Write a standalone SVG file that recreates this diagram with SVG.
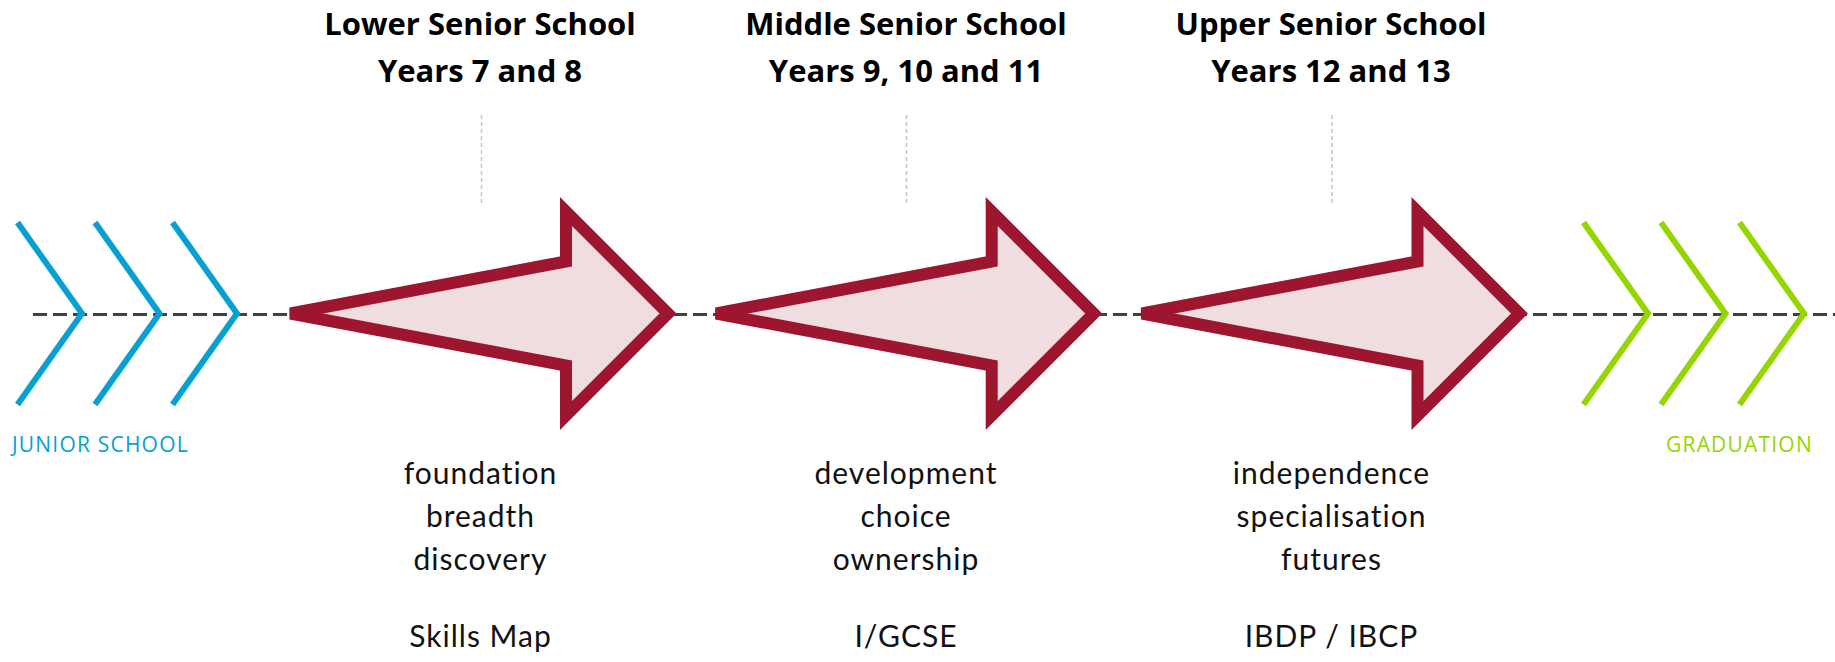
<svg xmlns="http://www.w3.org/2000/svg" xmlns:xlink="http://www.w3.org/1999/xlink" width="1835" height="662" viewBox="0 0 1835 662">
  <style>
    .title { font-family: "Open Sans", "Liberation Sans", sans-serif; font-weight: bold; font-size: 31px; fill: #000; text-anchor: middle; }
    .body { font-family: Lato, "Liberation Sans", sans-serif; font-size: 30px; letter-spacing: 1px; fill: #111; text-anchor: middle; }
    .guide { stroke: #c4c4c4; stroke-width: 1.5; stroke-dasharray: 4 3; fill: none; }
    .axis { stroke: #46403a; stroke-width: 3; stroke-dasharray: 14 6; fill: none; }
    .arrow { fill: #efdde0; stroke: #9e1530; stroke-width: 12; stroke-linejoin: miter; }
    .chev-blue { fill: none; stroke: #06a0d1; stroke-width: 6; }
    .chev-green { fill: none; stroke: #95d500; stroke-width: 6; }
    .label { font-family: "Open Sans", "Liberation Sans", sans-serif; font-size: 21px; letter-spacing: 1.2px; }
  </style>
  <defs>
    <path id="bigArrow" d="M290.5 313.5 L566 261.5 L566 211.5 L668 313.5 L566 415.5 L566 365.5 Z"/>
    <path id="chev" d="M0 0 L64.5 91 L0 182"/>
  </defs>
  <rect width="1835" height="662" fill="#fff"/>

  <g id="connectors">
    <line class="axis" x1="33" y1="314.5" x2="1835" y2="314.5"/>
  </g>

  <g id="junior">
    <use xlink:href="#chev" class="chev-blue" x="17.5" y="222.5"/>
    <use xlink:href="#chev" class="chev-blue" x="95" y="222.5"/>
    <use xlink:href="#chev" class="chev-blue" x="172.5" y="222.5"/>
    <text class="label" x="12" y="451.5" fill="#06a0d1">JUNIOR SCHOOL</text>
  </g>

  <g id="lower">
    <text class="title" x="480" y="35">Lower Senior School</text>
    <text class="title" x="480" y="81.5">Years 7 and 8</text>
    <line class="guide" x1="481.5" y1="115" x2="481.5" y2="205"/>
    <use xlink:href="#bigArrow" class="arrow"/>
    <text class="body" x="480.5" y="483.5">foundation</text>
    <text class="body" x="480.5" y="527">breadth</text>
    <text class="body" x="480.5" y="570">discovery</text>
    <text class="body" x="480.5" y="646.5">Skills Map</text>
  </g>

  <g id="middle">
    <text class="title" x="906" y="35">Middle Senior School</text>
    <text class="title" x="906" y="81.5">Years 9, 10 and 11</text>
    <line class="guide" x1="906.5" y1="115" x2="906.5" y2="205"/>
    <use xlink:href="#bigArrow" class="arrow" x="425.7"/>
    <text class="body" x="906" y="483.5">development</text>
    <text class="body" x="906" y="527">choice</text>
    <text class="body" x="906" y="570">ownership</text>
    <text class="body" x="906" y="646.5">I/GCSE</text>
  </g>

  <g id="upper">
    <text class="title" x="1331" y="35">Upper Senior School</text>
    <text class="title" x="1331" y="81.5">Years 12 and 13</text>
    <line class="guide" x1="1332" y1="115" x2="1332" y2="205"/>
    <use xlink:href="#bigArrow" class="arrow" x="851.5"/>
    <text class="body" x="1331.5" y="483.5">independence</text>
    <text class="body" x="1331.5" y="527">specialisation</text>
    <text class="body" x="1331.5" y="570">futures</text>
    <text class="body" x="1331.5" y="646.5">IBDP / IBCP</text>
  </g>

  <g id="graduation">
    <use xlink:href="#chev" class="chev-green" x="1583.5" y="222.5"/>
    <use xlink:href="#chev" class="chev-green" x="1661" y="222.5"/>
    <use xlink:href="#chev" class="chev-green" x="1739.5" y="222.5"/>
    <text class="label" x="1666" y="451.5" fill="#95d500">GRADUATION</text>
  </g>
</svg>
